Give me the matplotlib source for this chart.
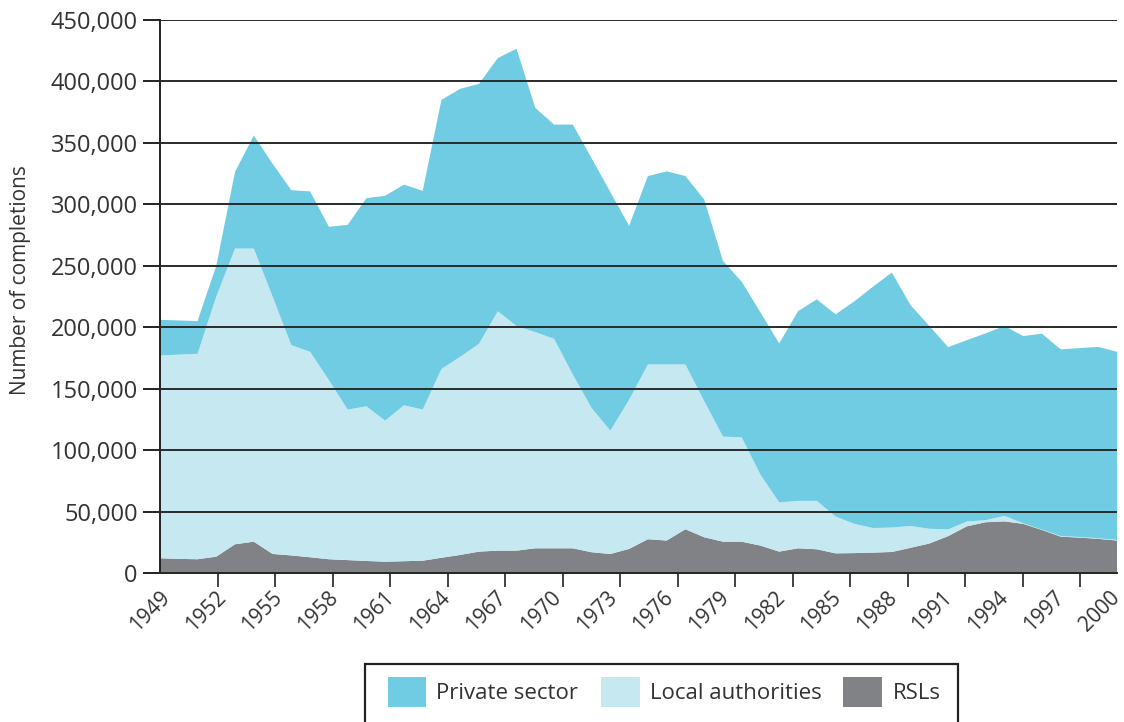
import numpy as np
import matplotlib.pyplot as plt
from matplotlib.patches import Patch, Rectangle
from matplotlib.ticker import FuncFormatter

plt.rcParams['font.family'] = 'Open Sans'

years = list(range(1949, 2001))

# housing completions by sector, thousands
private_sector = [29, 27.8, 26.6, 25, 62.5, 92, 108, 126.1, 130.5, 124.7,
                  150.3, 169.4, 183, 179.5, 178, 219, 218, 211.5, 206, 225.6,
                  182.5, 174.3, 203.4, 203.2, 194.2, 141.5, 153.3, 157.1, 153.3, 164,
                  143, 126.6, 132, 129.4, 154.3, 164, 164.5, 181, 196.4, 207.5,
                  179.7, 165, 148.3, 147.6, 152, 154.5, 152.3, 159.4, 151.9, 153.7,
                  155.7, 153.1]
local_authorities = [165, 166.2, 167.2, 211.7, 240.6, 238.5, 209.5, 171.1, 167.2, 145.8,
                     122.5, 125.8, 114.8, 126.9, 123, 153.6, 161.3, 169.1, 194.8, 182.8,
                     175.9, 170.5, 141.4, 117.4, 100.3, 121.4, 142.2, 143.3, 134.1, 110.9,
                     85.5, 84.9, 57.7, 40, 38.6, 39.4, 30, 23.8, 20, 19.9,
                     17.8, 12, 5.5, 3.9, 1.7, 4.5, 0.5, 0.3, 0.5, 0.5,
                     0.5, 0.5]
rsls = [12, 11.5, 11.2, 13.3, 23.4, 25.5, 15.5, 14.3, 12.8, 11.2,
        10.5, 9.8, 9.2, 9.6, 10, 12.4, 14.7, 17.4, 18.2, 18.2,
        20.1, 20.1, 20.1, 16.9, 15.5, 19.6, 27.5, 26.4, 35.6, 29.1,
        25.5, 25.5, 22.3, 17.4, 20.1, 19.3, 16, 16.2, 16.6, 17.1,
        20.5, 24, 30, 38, 41.3, 42, 40, 35, 29.6, 28.8,
        27.8, 26.4]

label_years = list(range(1949, 2001, 3))
series_names = ['Private sector', 'Local authorities', 'RSLs']
colors = {'Private sector': '#6fcce3', 'Local authorities': '#c6e8f1', 'RSLs': '#818286'}

fig = plt.figure(figsize=(11.24, 7.22), dpi=100)
ax = fig.add_axes([160 / 1124, 1 - 573 / 722, 957 / 1124, 553 / 722])

ax.stackplot(years,
             np.array(rsls) * 1000,
             np.array(local_authorities) * 1000,
             np.array(private_sector) * 1000,
             colors=[colors['RSLs'], colors['Local authorities'], colors['Private sector']],
             linewidth=0)

ax.set_xlim(1949, 2000)
ax.set_ylim(0, 450000)
ax.set_yticks(np.arange(0, 450001, 50000))
ax.yaxis.set_major_formatter(FuncFormatter(lambda v, p: f'{v:,.0f}'))
ax.yaxis.grid(True, color='#2a2a2a', linewidth=1.4)
ax.set_axisbelow(False)

for side in ['top', 'right']:
    ax.spines[side].set_visible(False)
for side in ['left', 'bottom']:
    ax.spines[side].set_color('#222222')
    ax.spines[side].set_linewidth(1.4)

ax.tick_params(axis='y', length=12, width=1.4, pad=4, color='#222222',
               labelsize=17, labelcolor='#333333')

# year labels spread evenly so the last one stays inside the frame,
# tick marks sit on their own slightly wider spacing
ax.set_xticks(np.linspace(1949, 1999.6, len(label_years)))
ax.set_xticklabels([str(y) for y in label_years])
ax.set_xticks(1949 + np.arange(17) * 3.065, minor=True)
ax.tick_params(axis='x', which='major', length=0, pad=10, labelsize=15, labelcolor='#333333')
ax.tick_params(axis='x', which='minor', length=10, width=1.2, color='#222222')
for lab in ax.get_xticklabels():
    lab.set_rotation(45)
    lab.set_ha('right')
    lab.set_va('top')
    lab.set_rotation_mode('anchor')

ax.set_ylabel('Number of completions', fontsize=15, color='#333333')
ax.yaxis.set_label_coords(-0.135, 0.53)

handles = [Patch(facecolor=colors[n], edgecolor='none', label=n) for n in series_names]
fig.legend(handles=handles, loc='center', bbox_to_anchor=(0.5907, 0.0416),
           ncol=3, frameon=False, fontsize=16, handlelength=1.75, handleheight=1.7,
           handletextpad=0.45, columnspacing=1.0, borderpad=0, labelcolor='#333333')
fig.patches.append(Rectangle((365 / 1124, -0.05), 593 / 1124, 0.05 + 1 - 664 / 722,
                             transform=fig.transFigure, fill=False,
                             edgecolor='#222222', linewidth=1.6))

fig.savefig('out.png', dpi=100)
